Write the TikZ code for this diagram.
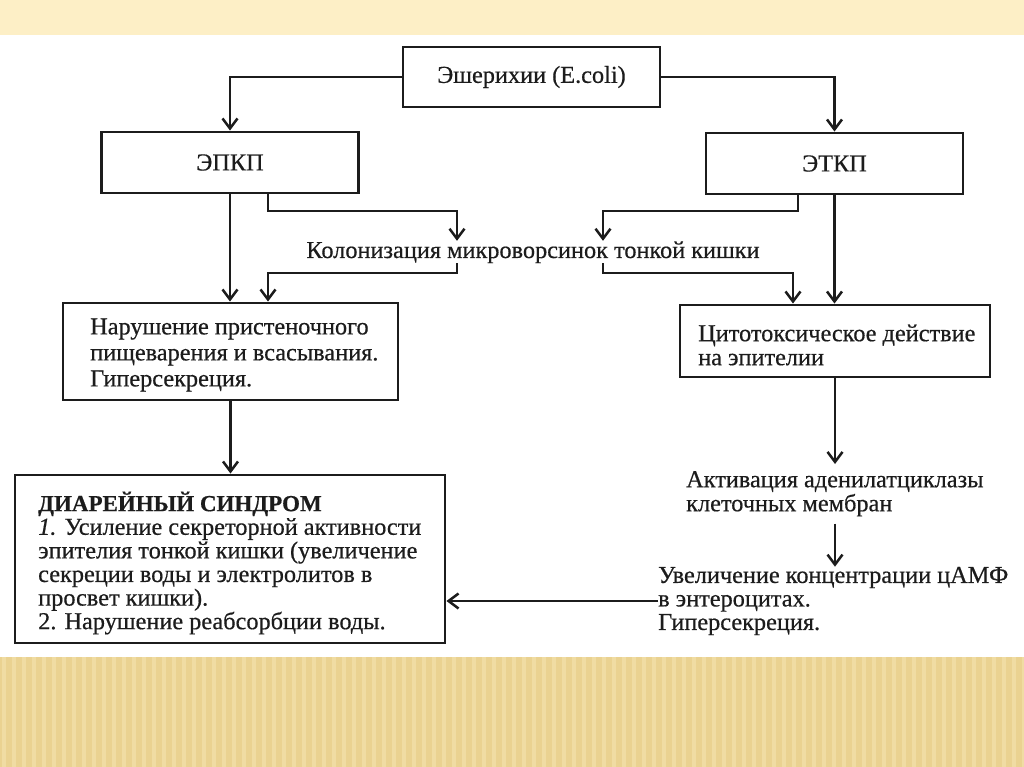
\documentclass[tikz,border=0pt]{standalone}
\usepackage{fontspec}
\setmainfont{Liberation Serif}[FakeBold=0.5]
\usetikzlibrary{arrows.meta}
\definecolor{topband}{HTML}{FDEFC6}
\definecolor{botband}{HTML}{EAD291}
\definecolor{botstripe}{HTML}{F3E1AC}
\definecolor{ink}{HTML}{1C1C1C}
\begin{document}
\begin{tikzpicture}[x=1pt,y=-1pt,
  box/.style={draw=ink, line width=2.9pt, rectangle, inner sep=0pt},
  lbl/.style={text=ink, font=\fontsize{24.3}{24}\selectfont, align=left, inner sep=0pt},
  arr/.style={draw=ink, line width=2.5pt, -{Straight Barb[length=10pt,width=15pt]}},
]
\useasboundingbox (0,0) rectangle (1024,767);
\fill[white] (0,0) rectangle (1024,767);
\fill[topband] (0,0) rectangle (1024,35);
\fill[botband] (0,657) rectangle (1024,767);
\foreach \i in {0,...,102} { \fill[botstripe, opacity=0.7] (\i*10+2,657) rectangle (\i*10+6,767); }

% boxes
\node[box, lbl, minimum width=257pt, minimum height=60pt] (ecoli) at (531.5,77) {Эшерихии (E.coli)};
\node[box, lbl, minimum width=257pt, minimum height=61pt] (epkp) at (230,162.5) {ЭПКП};
\node[box, lbl, minimum width=257pt, minimum height=61pt] (etkp) at (834.5,163.5) {ЭТКП};
\node[lbl, text height=17pt, text depth=5pt] (kol) at (533,252) {Колонизация микроворсинок тонкой кишки};

\node[box, minimum width=335pt, minimum height=97pt] (nar) at (230.5,351.5) {};
\node[lbl, anchor=west, font=\fontsize{24.3}{26}\selectfont] (nartxt) at (90,355) {Нарушение пристеночного\\пищеварения и всасывания.\\Гиперсекреция.};

\node[box, minimum width=310pt, minimum height=72pt] (cyt) at (835,341) {};
\node[lbl, anchor=west] (cyttxt) at (698,345) {Цитотоксическое действие\\на эпителии};

\node[box, minimum width=430pt, minimum height=168pt] (diar) at (230,559) {};
\node[lbl, anchor=west, font=\fontsize{24.3}{23.6}\selectfont] (diartxt) at (38,563)
  {{\bfseries\fontsize{23}{23.6}\selectfont ДИАРЕЙНЫЙ СИНДРОМ}\\
   \textit{1.} Усиление секреторной активности\\
   эпителия тонкой кишки (увеличение\\
   секреции воды и электролитов в\\
   просвет кишки).\\
   2. Нарушение реабсорбции воды.};

\node[lbl, anchor=north west, inner ysep=7pt] (akt) at (686,464) {Активация аденилатциклазы\\клеточных мембран};
\node[lbl, anchor=west, font=\fontsize{24.3}{23.5}\selectfont] (uvel) at (658,601) {Увеличение концентрации цАМФ\\в энтероцитах.\\Гиперсекреция.};

% connectors
\draw[arr] (ecoli.west) -| (epkp.north);
\draw[arr] (ecoli.east) -| (etkp.north);
\draw[arr] (epkp.south) -- (epkp.south |- nar.north);
\draw[arr] (epkp.south -| 268,0) |- (457,211) -- (kol.north -| 457,0);
\draw[arr] (etkp.south -| 798,0) |- (603,211) -- (kol.north -| 603,0);
\draw[arr] (etkp.south) -- (etkp.south |- cyt.north);
\draw[arr] (kol.south -| 457,0) |- (268,273) -- (nar.north -| 268,0);
\draw[arr] (kol.south -| 603,0) |- (793,273) -- (cyt.north -| 793,0);
\draw[arr] (nar.south) -- (nar.south |- diar.north);
\draw[arr] (cyt.south) -- (cyt.south |- akt.north);
\draw[arr] (cyt.south |- akt.south) -- (cyt.south |- uvel.north);
\draw[arr] (uvel.west) -- (diar.east |- uvel.west);
\end{tikzpicture}
\end{document}
